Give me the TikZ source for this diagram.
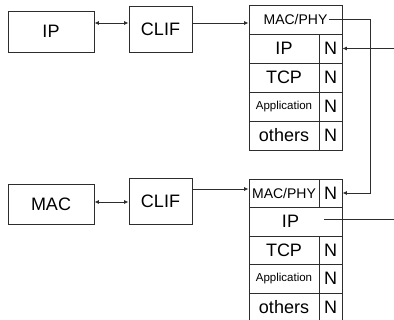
\documentclass[tikz,border=0pt]{standalone}
\usepackage{fontspec}
\setmainfont{Liberation Sans}
\usetikzlibrary{arrows.meta}
\definecolor{linegray}{RGB}{45,45,45}

\tikzset{
  box/.style={draw=linegray, line width=0.9pt, inner sep=0pt, font=\fontsize{18}{20}\selectfont},
  cell/.style={box, minimum width=70pt, minimum height=29pt},
  wide/.style={box, minimum width=93pt, minimum height=29pt},
  ncell/.style={box, minimum width=23pt, minimum height=29pt},
  link/.style={draw=linegray, line width=0.8pt},
  tip/.style={link, -{Latex[length=4.5pt,width=4pt]}},
  twotip/.style={link, {Latex[length=4.5pt,width=4pt]}-{Latex[length=4.5pt,width=4pt]}}
}

\begin{document}
\begin{tikzpicture}[x=1pt, y=-1pt]
    \useasboundingbox (0,0) rectangle (394,320);

    % upper chain
    \node[box, minimum width=86pt, minimum height=41pt] (ip) at (51,31.5) {IP};
    \node[box, minimum width=63pt, minimum height=46pt] (clif1) at (160.5,29) {CLIF};
    \coordinate (bus1) at (0,23);

    % upper stack
    \node[wide] (mac1) at (295.5,19.5) {};
    \node[inner sep=1pt, font=\fontsize{14}{16}\selectfont] (mac1t) at (mac1) {MAC/PHY};
    \node[cell] (ip1) at (284,48.5) {IP};
    \node[ncell] (ip1n) at (330.5,48.5) {N};
    \node[cell] (tcp1) at (284,77.5) {TCP};
    \node[ncell] (tcp1n) at (330.5,77.5) {N};
    \node[cell, font=\fontsize{11.5}{13}\selectfont] (app1) at (284,106.5) {Application};
    \node[ncell] (app1n) at (330.5,106.5) {N};
    \node[cell] (oth1) at (284,135.5) {others};
    \node[ncell] (oth1n) at (330.5,135.5) {N};

    % lower chain
    \node[box, minimum width=86pt, minimum height=40pt] (mac) at (51,204) {MAC};
    \node[box, minimum width=63pt, minimum height=46pt] (clif2) at (160.5,201) {CLIF};
    \coordinate (bus2) at (0,202);
    \coordinate (bus3) at (0,189);

    % lower stack
    \node[cell, minimum height=28pt, font=\fontsize{14}{16}\selectfont] (mac2) at (284,193) {MAC/PHY};
    \node[ncell, minimum height=28pt] (mac2n) at (330.5,193) {N};
    \node[wide] (ip2) at (295.5,221.5) {};
    \node[inner sep=1pt, font=\fontsize{18}{20}\selectfont] (ip2t) at (290.5,221.5) {IP};
    \node[cell, minimum height=28pt] (tcp2) at (284,250) {TCP};
    \node[ncell, minimum height=28pt] (tcp2n) at (330.5,250) {N};
    \node[cell, font=\fontsize{11.5}{13}\selectfont] (app2) at (284,278.5) {Application};
    \node[ncell] (app2n) at (330.5,278.5) {N};
    \node[cell, minimum height=28pt] (oth2) at (284,307) {others};
    \node[ncell, minimum height=28pt] (oth2n) at (330.5,307) {N};

    % free ends on the right
    \coordinate (in1) at (394,48.5);
    \coordinate (ip2out) at (324,219);
    \coordinate (out2) at (394,219);
    \coordinate (turn) at (370,0);

    % connectors
    \draw[twotip] (ip.east |- bus1) -- (clif1.west |- bus1);
    \draw[tip] (clif1.east |- bus1) -- (mac1.west |- bus1);
    \draw[tip] (in1) -- (ip1n.east);
    \draw[tip] (mac1t.east) -- (mac1t.east -| turn) |- (mac2n.east);
    \draw[twotip] (mac.east |- bus2) -- (clif2.west |- bus2);
    \draw[tip] (clif2.east |- bus3) -- (mac2.west |- bus3);
    \draw[link] (ip2out) -- (out2);
\end{tikzpicture}
\end{document}
